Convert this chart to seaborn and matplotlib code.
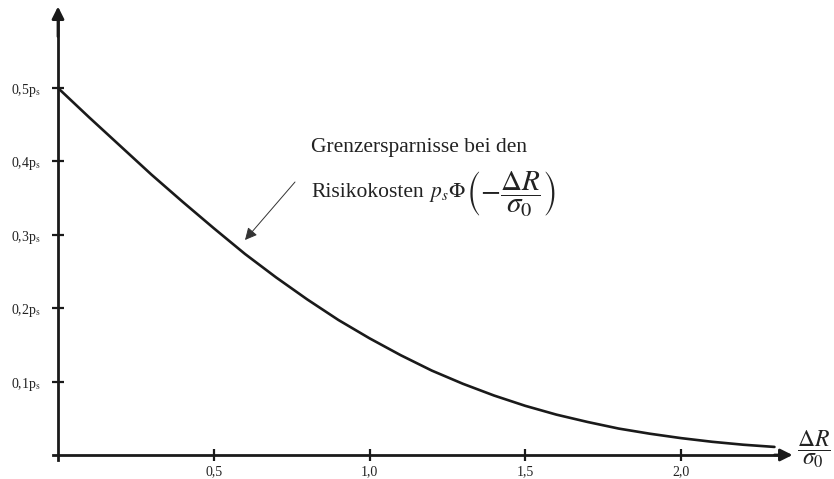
import matplotlib
matplotlib.use("Agg")
import matplotlib.pyplot as plt
import seaborn as sns
import pandas as pd

# Marginal savings in risk costs, in units of p_s, against ΔR/σ0
ratio = [0.0, 0.1, 0.2, 0.3, 0.4, 0.5, 0.6, 0.7, 0.8, 0.9, 1.0, 1.1,
         1.2, 1.3, 1.4, 1.5, 1.6, 1.7, 1.8, 1.9, 2.0, 2.1, 2.2, 2.3]
savings = [0.500, 0.460, 0.421, 0.382, 0.345, 0.309, 0.274, 0.242,
           0.212, 0.184, 0.159, 0.136, 0.115, 0.097, 0.081, 0.067,
           0.055, 0.045, 0.036, 0.029, 0.023, 0.018, 0.014, 0.011]

x_ticks = [0.5, 1.0, 1.5, 2.0]
x_tick_labels = ["0,5", "1,0", "1,5", "2,0"]
y_ticks = [0.1, 0.2, 0.3, 0.4, 0.5]
y_tick_labels = [r"0,1p$_\mathrm{s}$", r"0,2p$_\mathrm{s}$", r"0,3p$_\mathrm{s}$",
                 r"0,4p$_\mathrm{s}$", r"0,5p$_\mathrm{s}$"]

df = pd.DataFrame({"ratio": ratio, "savings": savings})

sns.set_theme(style="white")
plt.rcParams["font.family"] = ["Liberation Serif", "DejaVu Serif"]
plt.rcParams["mathtext.fontset"] = "stix"

W, H = 834, 479
fig = plt.figure(figsize=(W / 100, H / 100), dpi=100)
ax = fig.add_axes([0, 0, 1, 1])

# pixel layout: origin at (58, 455), 311.5 px per x unit, 734 px per y unit
x0, y0, sx, sy = 58, 455, 311.5, 734
ax.set_xlim(-x0 / sx, (W - x0) / sx)
ax.set_ylim(-(H - y0) / sy, y0 / sy)


def at(px, py):
    """Pixel position (from the top-left corner) to data coordinates."""
    return (px - x0) / sx, (y0 - py) / sy


ink = "#1a1a1a"
txt = "#222222"

sns.lineplot(data=df, x="ratio", y="savings", ax=ax, color=ink,
             linewidth=1.9, estimator=None)

ax.set_xlabel("")
ax.set_ylabel("")

for side in ("top", "right"):
    ax.spines[side].set_visible(False)
for side in ("left", "bottom"):
    ax.spines[side].set_position(("data", 0))
    ax.spines[side].set_color(ink)
    ax.spines[side].set_linewidth(2.0)
ax.spines["left"].set_bounds(-0.007, 0.595)
ax.spines["bottom"].set_bounds(-0.016, 2.33)

# arrow heads on both axes
ax.annotate("", xy=(2.358, 0), xytext=(2.30, 0),
            arrowprops=dict(arrowstyle="-|>", color=ink, lw=2.0,
                            mutation_scale=18, shrinkA=0, shrinkB=0))
ax.annotate("", xy=(0, 0.611), xytext=(0, 0.57),
            arrowprops=dict(arrowstyle="-|>", color=ink, lw=2.0,
                            mutation_scale=18, shrinkA=0, shrinkB=0))

ax.set_xticks(x_ticks)
ax.set_xticklabels(x_tick_labels)
ax.set_yticks(y_ticks)
ax.set_yticklabels(y_tick_labels)
ax.tick_params(axis="both", direction="inout", length=9, width=1.6,
               color=ink, labelsize=10, labelcolor=txt,
               bottom=True, left=True)
ax.tick_params(axis="x", pad=3)
ax.tick_params(axis="y", pad=8)

# axis quantity at the end of the x axis
ax.text(*at(814, 449), r"$\dfrac{\Delta R}{\sigma_0}$", fontsize=17,
        ha="center", va="center", color=txt)

# curve annotation
ax.text(*at(311, 152), "Grenzersparnisse bei den", fontsize=15.5,
        ha="left", va="baseline", color=txt)
ax.text(*at(311, 197), "Risikokosten", fontsize=15.5,
        ha="left", va="baseline", color=txt)
ax.text(*at(429, 197), r"$p_s\Phi$", fontsize=15.5,
        ha="left", va="baseline", color=txt)
ax.text(*at(466, 194), r"$\left(-\dfrac{\Delta R}{\sigma_0}\right)$",
        fontsize=21, ha="left", va="center", color=txt)
ax.annotate("", xy=at(245, 240), xytext=at(295, 182),
            arrowprops=dict(arrowstyle="-|>", color="#333333", lw=0.7,
                            mutation_scale=18, shrinkA=0, shrinkB=0))

fig.savefig("out.png", dpi=100)
